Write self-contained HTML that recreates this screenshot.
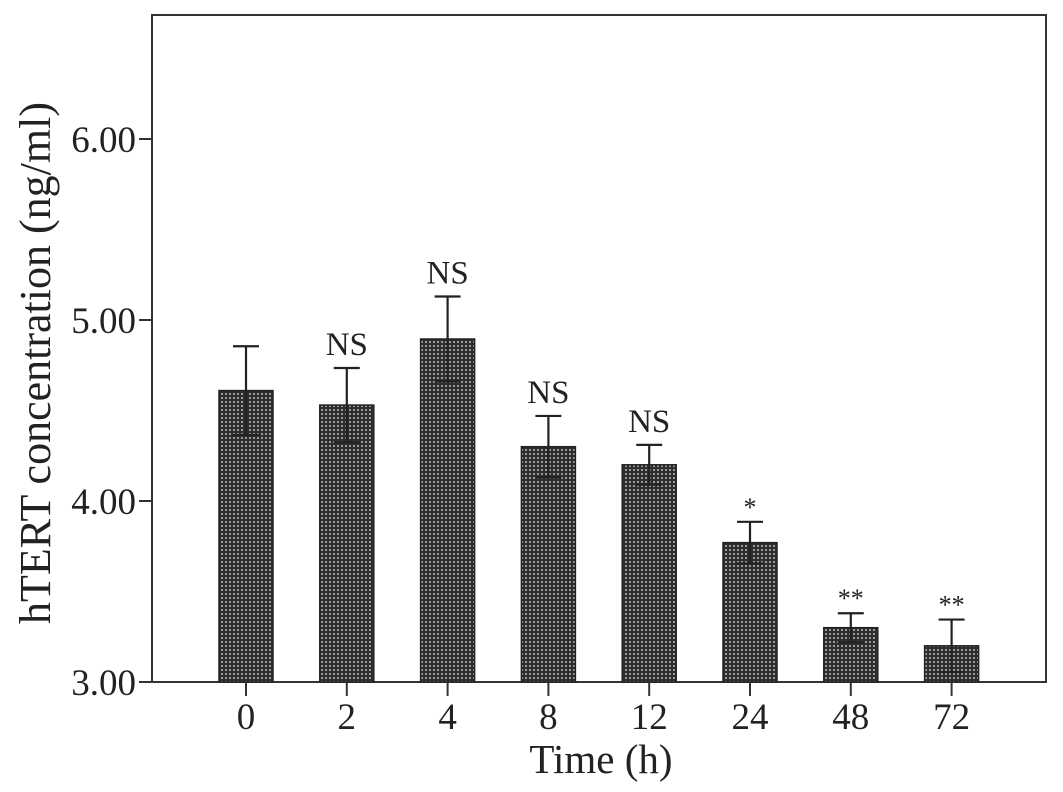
<!DOCTYPE html>
<html><head><meta charset="utf-8"><style>
html,body{margin:0;padding:0;background:#fff;}
svg{display:block;font-family:"Liberation Serif",serif;}
</style></head><body>
<svg id="chart" width="1063" height="792" viewBox="0 0 1063 792">
<defs>
<pattern id="chk" width="4" height="4" patternUnits="userSpaceOnUse">
<rect width="4" height="4" fill="#2e2e2e"/>
<rect x="1" y="1" width="2" height="2" fill="#9a9a9a"/>
</pattern>
</defs>
<rect x="152" y="15" width="894" height="667" fill="none" stroke="#333" stroke-width="2"/>
<g id="marks"></g>
<text x="601" y="773" font-size="41" text-anchor="middle" fill="#222">Time (h)</text>
<text transform="translate(50,363) rotate(-90)" font-size="44" text-anchor="middle" fill="#222">hTERT concentration (ng/ml)</text>
</svg>
<script>
const categories=["0","2","4","8","12","24","48","72"];
const values=[4.61,4.53,4.895,4.30,4.20,3.77,3.30,3.20];
const errors=[0.245,0.205,0.235,0.17,0.11,0.115,0.08,0.145];
const labels=["","NS","NS","NS","NS","*","**","**"];
const yTicks=[3,4,5,6];
const yTickLabels=["3.00","4.00","5.00","6.00"];
const NS="http://www.w3.org/2000/svg";
const g=document.getElementById('marks');
function y(v){return 682-(v-3)*181;}
function x(i){return 246+i*100.8;}
function mk(t,a){const e=document.createElementNS(NS,t);for(const k in a)e.setAttribute(k,a[k]);g.appendChild(e);return e;}
yTicks.forEach((t,i)=>{
 const l=mk('line',{x1:139,x2:152,y1:y(t),y2:y(t),stroke:'#333','stroke-width':2});
 
 
 const tx=mk('text',{x:136,y:y(t)+13,'font-size':37,'text-anchor':'end',fill:'#222'});
 tx.textContent=yTickLabels[i];
 
 
});
categories.forEach((c,i)=>{
 const cx=x(i),v=values[i],e=errors[i];
 const r=mk('rect',{x:cx-27,y:y(v),width:54,height:682-y(v),fill:'url(#chk)',stroke:'#222','stroke-width':1.5});
 
 
 const eb=mk('path',{d:`M${cx},${y(v-e)}V${y(v+e)}M${cx-13},${y(v+e)}H${cx+13}M${cx-13},${y(v-e)}H${cx+13}`,stroke:'#222','stroke-width':2.2,fill:'none'});
 
 
 const tk=mk('line',{x1:cx,x2:cx,y1:682,y2:696,stroke:'#333','stroke-width':2});
 
 
 const tl=mk('text',{x:cx,y:729,'font-size':37,'text-anchor':'middle',fill:'#222'});
 tl.textContent=c;
 
 
 if(labels[i]){
  const star=labels[i].startsWith('*');
  const s=mk('text',{x:cx,y:y(v+e)-(star?6:13),'font-size':star?26:33,'text-anchor':'middle',fill:'#222'});
  s.textContent=labels[i];
  
  
 }
});
</script>
</body></html>
